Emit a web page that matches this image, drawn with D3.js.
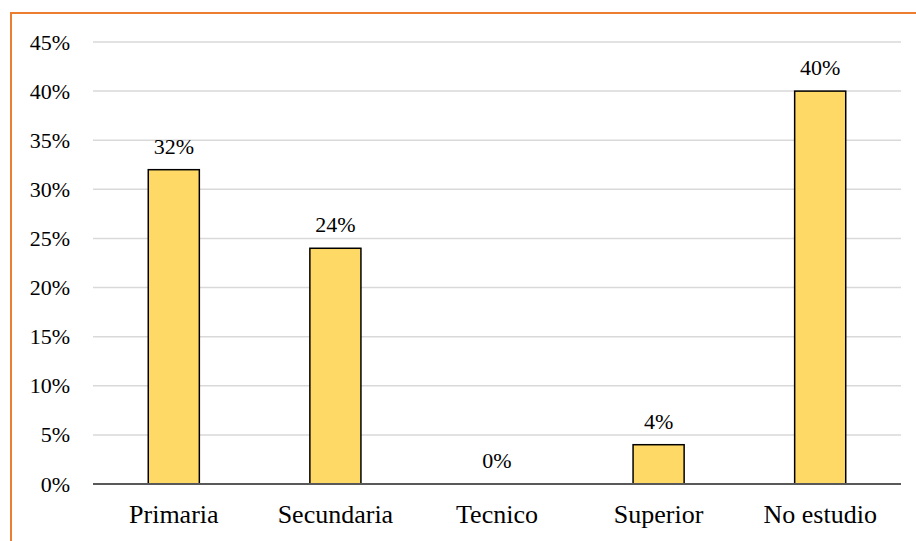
<!DOCTYPE html>
<html><head><meta charset="utf-8">
<script src="https://cdn.jsdelivr.net/npm/d3@7"></script>
<style>
html body svg#fig text, html body svg#fig g text, html body svg#fig g.tick text { font-family: "Liberation Serif", "Tinos", serif !important; }
</style>
</head>
<body style="margin:0">
<svg id="fig" width="916" height="541"></svg>
<script>
const categories = ["Primaria", "Secundaria", "Tecnico", "Superior", "No estudio"];
const values = [0.32, 0.24, 0.00, 0.04, 0.40];
const yTicks = [0, 0.05, 0.10, 0.15, 0.20, 0.25, 0.30, 0.35, 0.40, 0.45];

const FONT = "'Liberation Serif', serif";
const svg = d3.select("#fig");
const W = 916, H = 541;

svg.append("rect").attr("width", W).attr("height", H).attr("fill", "#fff");

// orange frame (cropped: top and left visible)
svg.append("path")
  .attr("d", `M11,${H} L11,13 L${W},13`)
  .attr("fill", "none")
  .attr("stroke", "#ED7D31")
  .attr("stroke-width", 2);

const x = d3.scaleBand()
  .domain(categories)
  .range([93, 901])
  .paddingInner(0.684)
  .paddingOuter(0.342);

const y = d3.scaleLinear()
  .domain([0, 0.45])
  .range([484, 42]);

const fmt = d3.format(".0%");

// gridlines
svg.append("g")
  .selectAll("line")
  .data(yTicks.filter(d => d > 0))
  .join("line")
  .attr("x1", 93).attr("x2", 901)
  .attr("y1", d => y(d))
  .attr("y2", d => y(d))
  .attr("stroke", "#D9D9D9")
  .attr("stroke-width", 1.5);

// y axis labels
const yAxis = d3.axisLeft(y).tickValues(yTicks).tickFormat(fmt).tickSize(0).tickPadding(23);
const gy = svg.append("g").attr("transform", "translate(93,0)").call(yAxis);
gy.attr("font-family", FONT).attr("font-size", 22);
gy.select(".domain").remove();
gy.selectAll("text")
  .attr("fill", "#000")
  .style("font-family", FONT)
  .attr("font-size", 22);

// bars
svg.append("g")
  .selectAll("rect")
  .data(values)
  .join("rect")
  .attr("x", (d, i) => x(categories[i]))
  .attr("y", d => y(d))
  .attr("width", x.bandwidth())
  .attr("height", d => y(0) - y(d))
  .attr("fill", "#FFD966")
  .attr("stroke", "#000")
  .attr("stroke-width", 1.5)
  .attr("display", d => d > 0 ? null : "none");

// x axis baseline
svg.append("line")
  .attr("x1", 93).attr("x2", 901)
  .attr("y1", y(0)).attr("y2", y(0))
  .attr("stroke", "#595959")
  .attr("stroke-width", 2);

// x axis labels
const xAxis = d3.axisBottom(x).tickSize(0).tickPadding(0);
const gx = svg.append("g").attr("transform", `translate(0,${y(0)})`).call(xAxis);
gx.attr("font-family", FONT).attr("font-size", 26);
gx.select(".domain").remove();
gx.selectAll("text")
  .attr("fill", "#000")
  .attr("dy", null)
  .attr("y", 39)
  .style("font-family", FONT)
  .attr("font-size", 26);

// data labels
svg.append("g")
  .attr("font-family", FONT)
  .selectAll("text")
  .data(values)
  .join("text")
  .attr("x", (d, i) => x(categories[i]) + x.bandwidth() / 2)
  .attr("y", d => y(d) - 16)
  .attr("text-anchor", "middle")
  .attr("fill", "#000")
  .style("font-family", FONT)
  .attr("font-size", 22)
  .text(d => fmt(d));
</script>
</body></html>
